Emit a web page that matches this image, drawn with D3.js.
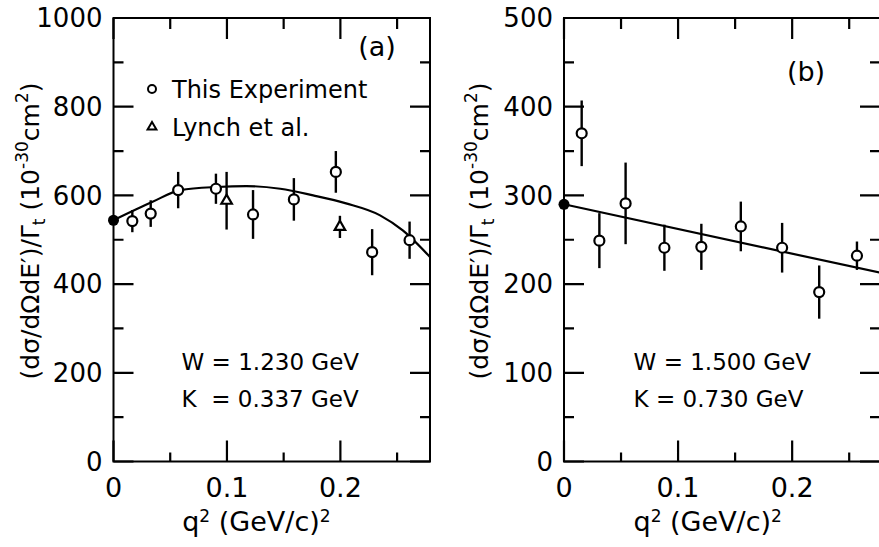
<!DOCTYPE html>
<html>
<head>
<meta charset="utf-8">
<script src="https://cdn.jsdelivr.net/npm/d3@7"></script>
<style>
body { margin: 0; background: #fff; }
svg { display: block; font-family: "DejaVu Sans", sans-serif; }
</style>
</head>
<body>
<div id="chart"></div>
<script>
// x tick labels shared by both panels
var qTicks = [0, 0.1, 0.2];
var qMinor = [0.05, 0.15, 0.25];

// panel (a)  W = 1.230 GeV
var yTicksA = [0, 200, 400, 600, 800, 1000];
var yMinorA = [100, 300, 500, 700, 900];
var expA_q = [0.0166, 0.0328, 0.057, 0.0903, 0.123, 0.159, 0.196, 0.228, 0.261];
var expA_y = [542, 559, 612, 615, 557, 591, 653, 472, 499];
var expA_err = [25, 30, 41, 34, 55, 48, 47, 52, 42];
var lynchA_q = [0.0997, 0.1996];
var lynchA_y = [588, 529];
var lynchA_err = [65, 25];
var fitA_q = [0, 0.034, 0.059, 0.091, 0.117, 0.147, 0.176, 0.205, 0.235, 0.255, 0.279];
var fitA_y = [544, 585, 612, 619, 621, 615, 600, 582, 555, 521, 461];
var zeroA = 544;

// panel (b)  W = 1.500 GeV
var yTicksB = [0, 100, 200, 300, 400, 500];
var yMinorB = [50, 150, 250, 350, 450];
var expB_q = [0.0155, 0.031, 0.054, 0.088, 0.1204, 0.155, 0.1912, 0.2237, 0.2568];
var expB_y = [370, 249, 291, 241, 242, 265, 241, 191, 232];
var expB_err = [37, 31, 46, 26, 26, 28, 28, 30, 16];
var fitB_q = [0, 0.28];
var fitB_y = [290, 212];
var zeroB = 290;

var W = 879, H = 547;
var svg = d3.select("#chart").append("svg")
    .attr("width", W)
    .attr("height", H);

function zip(a, b, c) {
    return a.map(function(d, i) { return { q: d, v: b[i], e: c ? c[i] : 0 }; });
}

function drawPanel(cfg) {
    var x = d3.scaleLinear().domain([0, cfg.qMax]).range([cfg.left, cfg.right]);
    var y = d3.scaleLinear().domain([0, cfg.yMax]).range([461.5, 18]);
    var g = svg.append("g");

    // frame
    g.append("rect")
        .attr("x", x(0)).attr("y", y(cfg.yMax))
        .attr("width", x(cfg.qMax) - x(0))
        .attr("height", y(0) - y(cfg.yMax))
        .attr("fill", "none")
        .attr("stroke", "#000")
        .attr("stroke-width", 2);

    // inward ticks on all four sides
    var tickPath = d3.path();
    cfg.yTicks.concat(cfg.yMinor).forEach(function(v) {
        var len = cfg.yTicks.indexOf(v) >= 0 ? 20 : 10;
        tickPath.moveTo(x(0), y(v)); tickPath.lineTo(x(0) + len, y(v));
        tickPath.moveTo(x(cfg.qMax), y(v)); tickPath.lineTo(x(cfg.qMax) - len, y(v));
    });
    qTicks.concat(qMinor).forEach(function(v) {
        var major = qTicks.indexOf(v) >= 0;
        tickPath.moveTo(x(v), y(0)); tickPath.lineTo(x(v), y(0) - (major ? 21 : 9));
        tickPath.moveTo(x(v), y(cfg.yMax)); tickPath.lineTo(x(v), y(cfg.yMax) + (major ? 21 : 11));
    });
    g.append("path")
        .attr("d", tickPath.toString())
        .attr("fill", "none")
        .attr("stroke", "#000")
        .attr("stroke-width", 2.2);

    // tick labels
    g.selectAll(".ylab")
        .data(cfg.yTicks)
        .enter().append("text")
        .attr("class", "ylab")
        .attr("x", x(0) - 11)
        .attr("y", function(d) { return y(d); })
        .attr("dy", "0.36em")
        .attr("text-anchor", "end")
        .style("font-size", "26px")
        .text(function(d) { return String(d); });

    g.selectAll(".xlab")
        .data(qTicks)
        .enter().append("text")
        .attr("class", "xlab")
        .attr("x", function(d) { return x(d); })
        .attr("y", y(0) + 35)
        .attr("text-anchor", "middle")
        .style("font-size", "27px")
        .text(function(d) { return d === 0 ? "0" : d.toFixed(1); });

    // fit curve
    var line = d3.line()
        .x(function(d) { return x(d.q); })
        .y(function(d) { return y(d.v); })
        .curve(cfg.fitCurve);
    g.append("path")
        .datum(zip(cfg.fitQ, cfg.fitY))
        .attr("d", line)
        .attr("fill", "none")
        .attr("stroke", "#000")
        .attr("stroke-width", 2.2);

    // error bars
    var pts = zip(cfg.expQ, cfg.expY, cfg.expErr);
    var tri = cfg.lynchQ ? zip(cfg.lynchQ, cfg.lynchY, cfg.lynchErr) : [];
    g.selectAll(".err")
        .data(pts.concat(tri))
        .enter().append("line")
        .attr("class", "err")
        .attr("x1", function(d) { return x(d.q); })
        .attr("x2", function(d) { return x(d.q); })
        .attr("y1", function(d) { return y(d.v - d.e); })
        .attr("y2", function(d) { return y(d.v + d.e); })
        .attr("stroke", "#000")
        .attr("stroke-width", 2.4);

    g.selectAll(".dot")
        .data(pts)
        .enter().append("circle")
        .attr("class", "dot")
        .attr("cx", function(d) { return x(d.q); })
        .attr("cy", function(d) { return y(d.v); })
        .attr("r", 5)
        .attr("fill", "#fff")
        .attr("stroke", "#000")
        .attr("stroke-width", 2.2);

    g.selectAll(".tri")
        .data(tri)
        .enter().append("path")
        .attr("class", "tri")
        .attr("d", d3.symbol(d3.symbolTriangle).size(48))
        .attr("transform", function(d) { return "translate(" + x(d.q) + "," + y(d.v) + ")"; })
        .attr("fill", "#fff")
        .attr("stroke", "#000")
        .attr("stroke-width", 2.2);

    // filled point at q^2 = 0
    g.append("circle")
        .attr("cx", x(0))
        .attr("cy", y(cfg.zero))
        .attr("r", 5.5)
        .attr("fill", "#000");

    // panel letter
    g.append("text")
        .attr("x", cfg.tagX).attr("y", cfg.tagY)
        .attr("text-anchor", "middle")
        .style("font-size", "27px")
        .text(cfg.tag);

    // kinematics
    g.append("text").attr("x", x(cfg.annQ)).attr("y", 370)
        .style("font-size", "23px").attr("xml:space", "preserve")
        .text(cfg.wText);
    g.append("text").attr("x", x(cfg.annQ)).attr("y", 407)
        .style("font-size", "23px").attr("xml:space", "preserve")
        .text(cfg.kText);

    // x title
    var xt = g.append("text")
        .attr("x", x(0.126)).attr("y", 531)
        .attr("text-anchor", "middle")
        .style("font-size", "27px");
    xt.append("tspan").text("q");
    xt.append("tspan").attr("dy", -9).style("font-size", "17px").text("2");
    xt.append("tspan").attr("dy", 9).text(" (GeV/c)");
    xt.append("tspan").attr("dy", -9).style("font-size", "17px").text("2");

    // y title
    var yt = g.append("text")
        .attr("transform", "translate(" + cfg.yTitleX + ",231) rotate(-90)")
        .attr("text-anchor", "middle")
        .style("font-size", "25px");
    yt.append("tspan").text("(d\u03c3/d\u03a9dE\u2032)/\u0393");
    yt.append("tspan").attr("dy", 6).style("font-size", "17px").text("t");
    yt.append("tspan").attr("dy", -6).text("  (10");
    yt.append("tspan").attr("dy", -11).style("font-size", "17px").text("-30");
    yt.append("tspan").attr("dy", 11).text("cm");
    yt.append("tspan").attr("dy", -11).style("font-size", "17px").text("2");
    yt.append("tspan").attr("dy", 11).text(")");

    return { x: x, y: y, g: g };
}

var pa = drawPanel({
    left: 113.5, right: 430, qMax: 0.279, yMax: 1000,
    yTicks: yTicksA, yMinor: yMinorA,
    expQ: expA_q, expY: expA_y, expErr: expA_err,
    lynchQ: lynchA_q, lynchY: lynchA_y, lynchErr: lynchA_err,
    fitQ: fitA_q, fitY: fitA_y, fitCurve: d3.curveMonotoneX, zero: zeroA,
    tag: "(a)", tagX: 377, tagY: 56,
    annQ: 0.060, wText: "W = 1.230 GeV", kText: "K  = 0.337 GeV",
    yTitleX: 39
});

var pb = drawPanel({
    left: 564, right: 880, qMax: 0.277, yMax: 500,
    yTicks: yTicksB, yMinor: yMinorB,
    expQ: expB_q, expY: expB_y, expErr: expB_err,
    fitQ: fitB_q, fitY: fitB_y, fitCurve: d3.curveLinear, zero: zeroB,
    tag: "(b)", tagX: 806, tagY: 81,
    annQ: 0.061, wText: "W = 1.500 GeV", kText: "K = 0.730 GeV",
    yTitleX: 488
});

// legend in panel (a)
var leg = [
    { label: "This Experiment", shape: "circle", y: 89 },
    { label: "Lynch et al.", shape: "tri", y: 127 }
];
leg.forEach(function(l) {
    if (l.shape === "circle") {
        pa.g.append("circle").attr("cx", 152).attr("cy", l.y).attr("r", 4)
            .attr("fill", "#fff").attr("stroke", "#000").attr("stroke-width", 2);
    } else {
        pa.g.append("path").attr("d", d3.symbol(d3.symbolTriangle).size(34))
            .attr("transform", "translate(152," + l.y + ")")
            .attr("fill", "#fff").attr("stroke", "#000").attr("stroke-width", 2);
    }
    pa.g.append("text").attr("x", 172).attr("y", l.y + 9)
        .style("font-size", "24px").text(l.label);
});
</script>
</body>
</html>
